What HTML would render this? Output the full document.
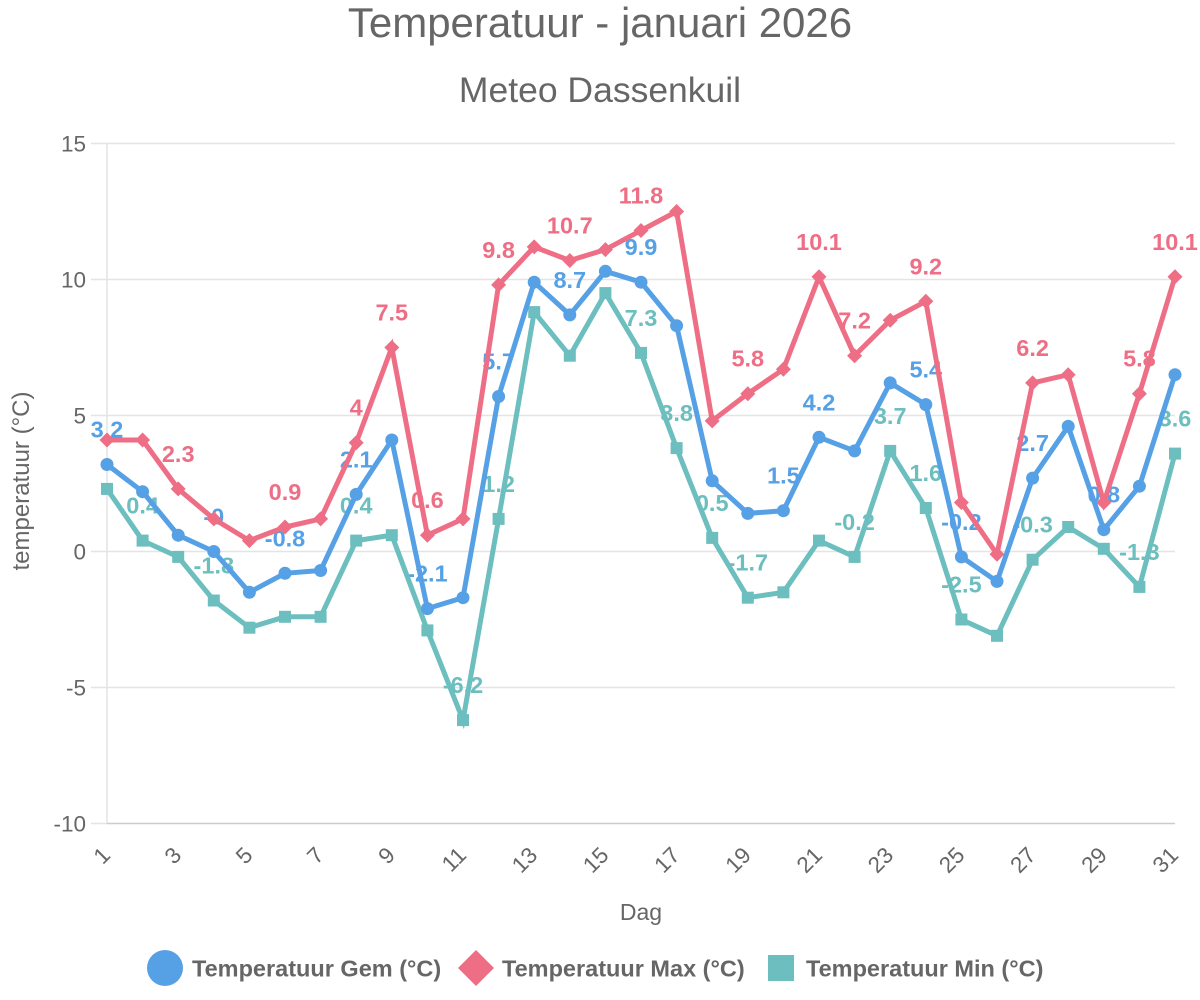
<!DOCTYPE html>
<html>
<head>
<meta charset="utf-8">
<style>
html,body{margin:0;padding:0;background:#fff;}
svg{display:block;}
text{font-family:"Liberation Sans",Arial,sans-serif;}
</style>
</head>
<body>
<svg width="1200" height="1000" viewBox="0 0 1200 1000" xmlns="http://www.w3.org/2000/svg">
<defs>
<marker id="mc" markerWidth="16" markerHeight="16" refX="8" refY="8" markerUnits="userSpaceOnUse"><circle cx="8" cy="8" r="6.5" fill="#56A0E5"/></marker>
<marker id="md" markerWidth="18" markerHeight="18" refX="9" refY="9" markerUnits="userSpaceOnUse"><polygon points="9,1.5 16.5,9 9,16.5 1.5,9" fill="#EE6E85"/></marker>
<marker id="ms" markerWidth="14" markerHeight="14" refX="7" refY="7" markerUnits="userSpaceOnUse"><rect x="1" y="1" width="12" height="12" fill="#6CBEBF"/></marker>
</defs>

<!-- titles -->
<text x="600" y="37" text-anchor="middle" font-size="42" fill="#666">Temperatuur - januari 2026</text>
<text x="600" y="102" text-anchor="middle" font-size="35.5" fill="#666">Meteo Dassenkuil</text>

<!-- grid -->
<g stroke="#e4e4e4" stroke-width="1.5">
<line x1="91" y1="143.5" x2="1175" y2="143.5"/>
<line x1="91" y1="279.5" x2="1175" y2="279.5"/>
<line x1="91" y1="415.5" x2="1175" y2="415.5"/>
<line x1="91" y1="551.5" x2="1175" y2="551.5"/>
<line x1="91" y1="687.5" x2="1175" y2="687.5"/>
<line x1="91" y1="823.5" x2="107" y2="823.5"/>
<line x1="107" y1="143.5" x2="107" y2="823.5"/>
</g>
<line x1="107" y1="823.5" x2="1175" y2="823.5" stroke="#cccccc" stroke-width="1.5"/>

<!-- y ticks -->
<g font-size="22.5" fill="#666" text-anchor="end">
<text x="86" y="151.5">15</text>
<text x="86" y="287.5">10</text>
<text x="86" y="423.5">5</text>
<text x="86" y="559.5">0</text>
<text x="86" y="695.5">-5</text>
<text x="86" y="831.5">-10</text>
</g>
<text transform="translate(29,481) rotate(-90)" text-anchor="middle" font-size="24" fill="#666">temperatuur (°C)</text>

<!-- x ticks -->
<g font-size="22.5" fill="#666" text-anchor="end">
<text transform="translate(106,851) rotate(-45)" dy="0.35em">1</text>
<text transform="translate(177.2,851) rotate(-45)" dy="0.35em">3</text>
<text transform="translate(248.4,851) rotate(-45)" dy="0.35em">5</text>
<text transform="translate(319.6,851) rotate(-45)" dy="0.35em">7</text>
<text transform="translate(390.8,851) rotate(-45)" dy="0.35em">9</text>
<text transform="translate(462,851) rotate(-45)" dy="0.35em">11</text>
<text transform="translate(533.2,851) rotate(-45)" dy="0.35em">13</text>
<text transform="translate(604.4,851) rotate(-45)" dy="0.35em">15</text>
<text transform="translate(675.6,851) rotate(-45)" dy="0.35em">17</text>
<text transform="translate(746.8,851) rotate(-45)" dy="0.35em">19</text>
<text transform="translate(818,851) rotate(-45)" dy="0.35em">21</text>
<text transform="translate(889.2,851) rotate(-45)" dy="0.35em">23</text>
<text transform="translate(960.4,851) rotate(-45)" dy="0.35em">25</text>
<text transform="translate(1031.6,851) rotate(-45)" dy="0.35em">27</text>
<text transform="translate(1102.8,851) rotate(-45)" dy="0.35em">29</text>
<text transform="translate(1174,851) rotate(-45)" dy="0.35em">31</text>
</g>
<text x="641" y="920" text-anchor="middle" font-size="23" fill="#666">Dag</text>

<!-- data labels -->
<g font-size="23.5" font-weight="bold" text-anchor="middle">
<g fill="#56A0E5">
<text x="107" y="437.5">3.2</text>
<text x="213.8" y="524.5">-0</text>
<text x="285" y="546.3">-0.8</text>
<text x="356.2" y="467.4">2.1</text>
<text x="427.4" y="581.6">-2.1</text>
<text x="498.6" y="369.5">5.7</text>
<text x="569.8" y="287.9">8.7</text>
<text x="641" y="255.2">9.9</text>
<text x="783.4" y="483.7">1.5</text>
<text x="819" y="410.3">4.2</text>
<text x="925.8" y="377.6">5.4</text>
<text x="961.4" y="529.9">-0.2</text>
<text x="1032.6" y="451.1">2.7</text>
<text x="1103.8" y="502.7">0.8</text>
</g>
<g fill="#EE6E85">
<text x="178.2" y="461.9">2.3</text>
<text x="285" y="500">0.9</text>
<text x="356.2" y="415.7">4</text>
<text x="391.8" y="320.5">7.5</text>
<text x="427.4" y="508.2">0.6</text>
<text x="498.6" y="257.9">9.8</text>
<text x="569.8" y="233.5">10.7</text>
<text x="641" y="203.5">11.8</text>
<text x="747.8" y="366.7">5.8</text>
<text x="819" y="249.8">10.1</text>
<text x="854.6" y="328.7">7.2</text>
<text x="925.8" y="274.3">9.2</text>
<text x="1032.6" y="355.9">6.2</text>
<text x="1139.4" y="366.7">5.8</text>
<text x="1175" y="249.8">10.1</text>
</g>
<g fill="#6CBEBF">
<text x="142.6" y="513.6">0.4</text>
<text x="213.8" y="573.5">-1.8</text>
<text x="356.2" y="513.6">0.4</text>
<text x="463" y="693.1">-6.2</text>
<text x="498.6" y="491.9">1.2</text>
<text x="641" y="325.9">7.3</text>
<text x="676.6" y="421.1">3.8</text>
<text x="712.2" y="510.9">0.5</text>
<text x="747.8" y="570.7">-1.7</text>
<text x="854.6" y="529.9">-0.2</text>
<text x="890.2" y="423.9">3.7</text>
<text x="925.8" y="481">1.6</text>
<text x="961.4" y="592.5">-2.5</text>
<text x="1032.6" y="532.7">-0.3</text>
<text x="1139.4" y="559.9">-1.3</text>
<text x="1175" y="426.6">3.6</text>
</g>
</g>

<!-- series -->
<g fill="none" stroke-width="5" stroke-linejoin="miter" stroke-miterlimit="10">
<polyline stroke="#6CBEBF" marker-start="url(#ms)" marker-mid="url(#ms)" marker-end="url(#ms)" points="107,488.9 142.6,540.6 178.2,556.9 213.8,600.5 249.4,627.7 285,616.8 320.6,616.8 356.2,540.6 391.8,535.2 427.4,630.4 463,720.1 498.6,518.9 534.2,312.1 569.8,355.7 605.4,293.1 641,352.9 676.6,448.1 712.2,537.9 747.8,597.7 783.4,592.3 819,540.6 854.6,556.9 890.2,450.9 925.8,508 961.4,619.5 997,635.8 1032.6,559.7 1068.2,527 1103.8,548.8 1139.4,586.9 1175,453.6"/>
<polyline stroke="#EE6E85" marker-start="url(#md)" marker-mid="url(#md)" marker-end="url(#md)" points="107,440 142.6,440 178.2,488.9 213.8,518.9 249.4,540.6 285,527 320.6,518.9 356.2,442.7 391.8,347.5 427.4,535.2 463,518.9 498.6,284.9 534.2,246.9 569.8,260.5 605.4,249.6 641,230.5 676.6,211.5 712.2,420.9 747.8,393.7 783.4,369.3 819,276.8 854.6,355.7 890.2,320.3 925.8,301.3 961.4,502.5 997,554.2 1032.6,382.9 1068.2,374.7 1103.8,502.5 1139.4,393.7 1175,276.8"/>
<polyline stroke="#56A0E5" marker-start="url(#mc)" marker-mid="url(#mc)" marker-end="url(#mc)" points="107,464.5 142.6,491.7 178.2,535.2 213.8,551.5 249.4,592.3 285,573.3 320.6,570.5 356.2,494.4 391.8,440 427.4,608.6 463,597.7 498.6,396.5 534.2,282.2 569.8,314.9 605.4,271.3 641,282.2 676.6,325.7 712.2,480.8 747.8,513.4 783.4,510.7 819,437.3 854.6,450.9 890.2,382.9 925.8,404.6 961.4,556.9 997,581.4 1032.6,478.1 1068.2,426.4 1103.8,529.7 1139.4,486.2 1175,374.7"/>
</g>

<!-- legend -->
<circle cx="165" cy="968" r="18" fill="#56A0E5"/>
<text x="192" y="976.5" font-size="23.5" font-weight="bold" fill="#666">Temperatuur Gem (°C)</text>
<polygon points="476,950 494,968 476,986 458,968" fill="#EE6E85"/>
<text x="502" y="976.5" font-size="23.5" font-weight="bold" fill="#666">Temperatuur Max (°C)</text>
<rect x="768" y="955" width="26" height="26" fill="#6CBEBF"/>
<text x="806" y="976.5" font-size="23.5" font-weight="bold" fill="#666">Temperatuur Min (°C)</text>
</svg>
</body>
</html>
